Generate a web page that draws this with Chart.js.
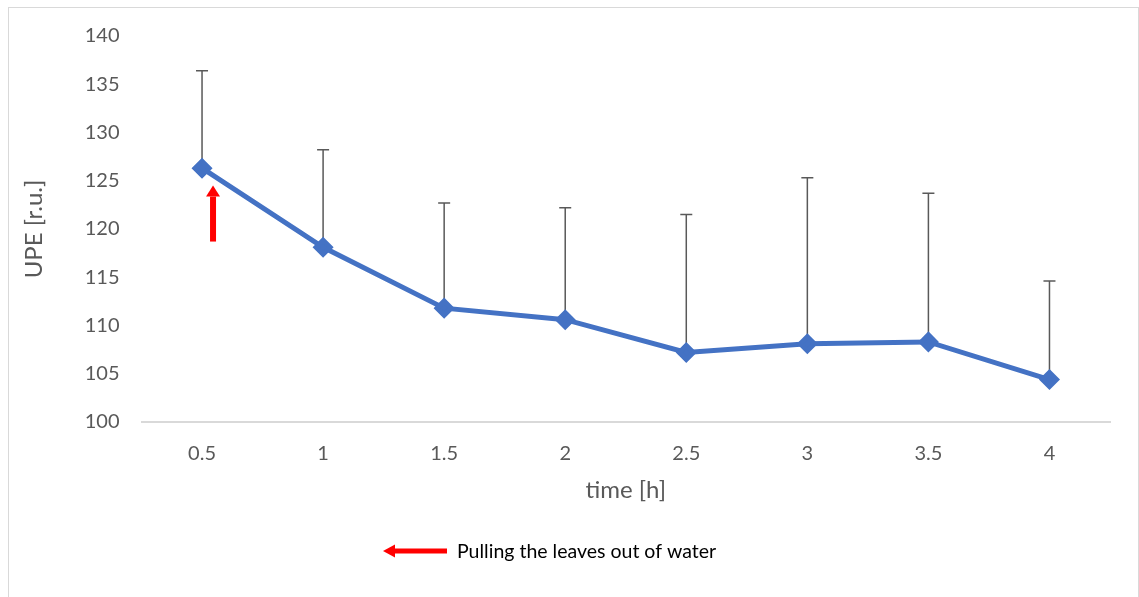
<!DOCTYPE html>
<html lang="en">
<head>
  <meta charset="UTF-8">
  <title>UPE over time</title>
  <style>
    body { margin: 0; background: white; font-family: Lato, sans-serif; }
    .frame { position: absolute; left: 8px; top: 7px; width: 1129px; height: 600px; border: 1px solid #d9d9d9; }
    #upeChart { position: absolute; left: 0; top: 0; }
  </style>
</head>
<body>
  <div class="frame"></div>
  <canvas id="upeChart" width="1139" height="597"></canvas>

  <script src="https://cdn.jsdelivr.net/npm/chart.js"></script>
  <script>
    // data
    const timeLabels = ['0.5', '1', '1.5', '2', '2.5', '3', '3.5', '4'];
    const upeMean = [126.3, 118.1, 111.8, 110.6, 107.2, 108.1, 108.3, 104.4];
    const upePlusErr = [10.1, 10.1, 10.9, 11.6, 14.3, 17.2, 15.4, 10.2];
    const yTicks = [100, 105, 110, 115, 120, 125, 130, 135, 140];

    // red arrow marking the moment leaves were pulled out of water (at 0.5 h)
    const arrowFrom = 118.7;
    const arrowTo = 124.5;
    const legendText = 'Pulling the leaves out of water';

    const blue = '#4472C4';
    const grey = '#595959';
    const font = 'Lato, "Open Sans", sans-serif';

    function drawArrow(ctx, x1, y1, x2, y2, shaft, head, headLen) {
      const ang = Math.atan2(y2 - y1, x2 - x1);
      const len = Math.hypot(x2 - x1, y2 - y1);
      ctx.save();
      ctx.translate(x1, y1);
      ctx.rotate(ang);
      ctx.fillStyle = '#ff0000';
      ctx.fillRect(0, -shaft / 2, len - headLen, shaft);
      ctx.beginPath();
      ctx.moveTo(len, 0);
      ctx.lineTo(len - headLen, -head / 2);
      ctx.lineTo(len - headLen, head / 2);
      ctx.closePath();
      ctx.fill();
      ctx.restore();
    }

    const extras = {
      id: 'extras',
      beforeDatasetsDraw(chart) {
        const ctx = chart.ctx, xs = chart.scales.x, ys = chart.scales.y;
        ctx.save();
        ctx.strokeStyle = grey;
        ctx.lineWidth = 1.5;
        upeMean.forEach((v, i) => {
          const x = xs.getPixelForValue(i);
          const yb = ys.getPixelForValue(v);
          const yt = ys.getPixelForValue(v + upePlusErr[i]);
          ctx.beginPath();
          ctx.moveTo(x, yb);
          ctx.lineTo(x, yt);
          ctx.moveTo(x - 6, yt);
          ctx.lineTo(x + 6, yt);
          ctx.stroke();
        });
        ctx.restore();
      },
      afterDraw(chart) {
        const ctx = chart.ctx, xs = chart.scales.x, ys = chart.scales.y;
        const ax = xs.getPixelForValue(0) + 11;
        drawArrow(ctx, ax, ys.getPixelForValue(arrowFrom), ax, ys.getPixelForValue(arrowTo), 6, 14, 11);

        // legend for the arrow
        drawArrow(ctx, 447, 551, 383, 551, 5, 13, 12);
        ctx.save();
        ctx.fillStyle = '#000';
        ctx.font = '19.5px ' + font;
        ctx.textBaseline = 'middle';
        ctx.fillText(legendText, 457, 552);
        ctx.restore();
      }
    };

    new Chart(document.getElementById('upeChart'), {
      type: 'line',
      data: {
        labels: timeLabels,
        datasets: [{
          label: 'UPE',
          data: upeMean,
          borderColor: blue,
          backgroundColor: blue,
          borderWidth: 5,
          pointStyle: 'rectRot',
          pointRadius: 7,
          pointBackgroundColor: blue,
          pointBorderColor: blue,
          tension: 0
        }]
      },
      options: {
        responsive: false,
        animation: false,
        layout: { padding: { left: 20, right: 29, top: 36, bottom: 92 } },
        plugins: { legend: { display: false }, tooltip: { enabled: false } },
        scales: {
          x: {
            offset: true,
            afterFit: (s) => { s.height = 83; },
            grid: { display: false, drawTicks: false },
            border: { display: true, color: '#d9d9d9', width: 2 },
            ticks: { color: grey, font: { family: font, size: 20 }, padding: 20 },
            title: { display: true, text: 'time [h]', color: grey, font: { family: font, size: 24 }, padding: { top: 0, bottom: 0 } }
          },
          y: {
            min: 100,
            max: 140,
            afterBuildTicks: (s) => { s.ticks = yTicks.map(v => ({ value: v })); },
            afterFit: (s) => { s.width = 121.5; },
            grid: { display: false, drawTicks: false },
            border: { display: false },
            ticks: { color: grey, font: { family: font, size: 20 }, padding: 22 },
            title: { display: true, text: 'UPE [r.u.]', color: grey, font: { family: font, size: 24 }, padding: { top: 0, bottom: 0 } }
          }
        }
      },
      plugins: [extras]
    });
  </script>
</body>
</html>
